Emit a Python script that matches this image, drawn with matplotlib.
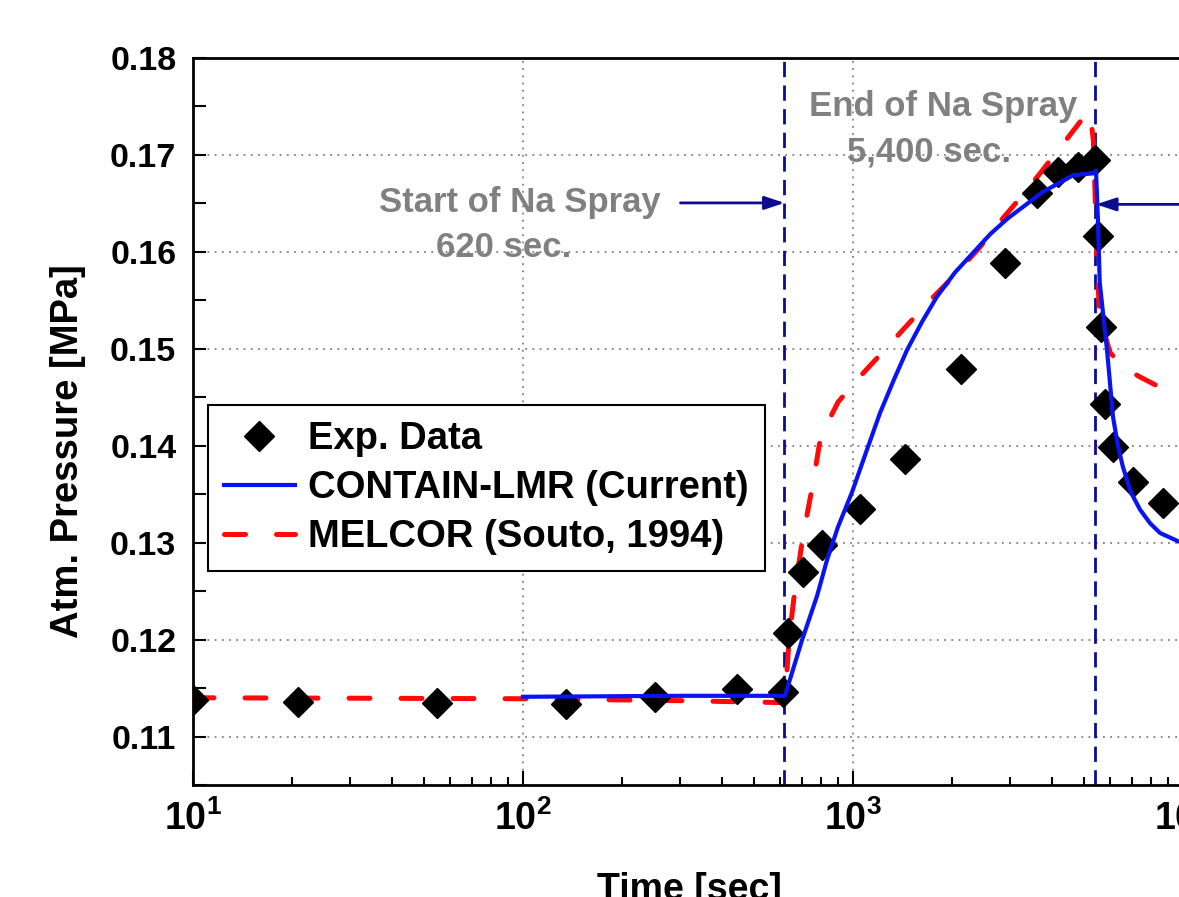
import math
import matplotlib
matplotlib.use("Agg")
import matplotlib.pyplot as plt
from matplotlib.ticker import FixedLocator, MultipleLocator, FuncFormatter, LogLocator

plt.rcParams['font.family'] = ['Liberation Sans', 'DejaVu Sans']
plt.rcParams['font.weight'] = 'bold'
plt.rcParams['mathtext.fontset'] = 'custom'
plt.rcParams['mathtext.rm'] = 'Liberation Sans:bold'
plt.rcParams['mathtext.bf'] = 'Liberation Sans:bold'
plt.rcParams['mathtext.it'] = 'Liberation Sans:bold'

# ---------------- data ----------------
exp_time = [10, 20.8, 54.8, 135, 251, 445, 615, 635, 705, 806, 1050, 1438, 2125,
            2891, 3615, 4178, 4806, 5400, 5520, 5650, 5810, 6135, 7047, 8690]
exp_pressure = [0.1138, 0.1136, 0.1135, 0.1134, 0.1141, 0.1149, 0.1146, 0.1207,
                0.1270, 0.1298, 0.1335, 0.1386, 0.1479, 0.1588, 0.1661, 0.1682,
                0.1688, 0.1695, 0.1616, 0.1523, 0.1443, 0.1399, 0.1363, 0.1341]

contain_time = [100, 300, 622, 700, 778, 834, 900, 993, 1100, 1208, 1330, 1459, 1620,
                1798, 2040, 2311, 2600, 2931, 3767, 4645, 5337, 5450, 5520, 5594,
                5884, 6135, 6350, 6577, 6950, 7413, 7950, 8518, 9728, 10000]
contain_pressure = [0.1141, 0.1142, 0.1142, 0.1199, 0.1245, 0.1282, 0.1316, 0.1352,
                    0.1395, 0.1434, 0.1468, 0.1499, 0.1528, 0.1554, 0.1579, 0.1599,
                    0.1618, 0.1634, 0.1662, 0.1679, 0.1681, 0.1684, 0.1636, 0.1568,
                    0.1499, 0.1430, 0.1400, 0.1378, 0.1352, 0.1334, 0.1320, 0.1310,
                    0.1301, 0.1300]

melcor_time = [10, 100, 300, 610, 622, 640, 667, 705, 757, 795, 850, 901, 1028, 1233,
               1438, 1746, 2010, 2426, 2786, 3274, 3689, 4300, 4977, 5225, 5350,
               5410, 5480, 5594, 6010, 6672, 7400, 8222, 9728, 10000]
melcor_pressure = [0.1140, 0.1139, 0.1137, 0.1135, 0.1136, 0.1200, 0.1252, 0.1306,
                   0.1362, 0.1406, 0.1428, 0.1445, 0.1468, 0.1497, 0.1522, 0.1553,
                   0.1574, 0.1605, 0.1631, 0.1659, 0.1681, 0.1710, 0.1738, 0.1744,
                   0.1715, 0.1664, 0.1592, 0.1533, 0.1496, 0.1480, 0.1471, 0.1463,
                   0.1447, 0.1445]

spray_start = 620
spray_end = 5400

x_ticks = [10, 100, 1000, 10000]
y_ticks = [0.11, 0.12, 0.13, 0.14, 0.15, 0.16, 0.17, 0.18]

labels = ['Exp. Data', 'CONTAIN-LMR (Current)', 'MELCOR (Souto, 1994)']

# ---------------- figure ----------------
fig = plt.figure(figsize=(11.79, 8.97), dpi=100)
ax = fig.add_axes([193 / 1179, 1 - 785 / 897, 990 / 1179, 727 / 897])

ax.set_xscale('log')
ax.set_xlim(10, 10000)
ax.set_ylim(0.105, 0.18)

navy = '#0c0c90'
grey = '#808080'

ax.grid(True, which='major', linestyle=(0, (1, 3)), color=grey, linewidth=1.3)
ax.set_axisbelow(True)

vline_kw = dict(color=navy, linewidth=2.0, linestyle=(0, (5.5, 3.0)), zorder=2)
ax.axvline(spray_start, **vline_kw)
ax.axvline(spray_end, **vline_kw)

ax.plot(exp_time, exp_pressure, linestyle='none', marker='D', markersize=15,
        color='black', label=labels[0], zorder=4)
ax.plot(contain_time, contain_pressure, color='#0a14f0', linewidth=3.0,
        label=labels[1], zorder=5)
ax.plot(melcor_time, melcor_pressure, color='#ff0a0a', linewidth=3.6,
        dashes=(4.2, 6.2), dash_capstyle='round', label=labels[2], zorder=3)

# annotations
txt_kw = dict(color=grey, fontsize=25, fontweight='bold', ha='center', va='center', zorder=6)
ax.text(97.6, 0.16505, 'Start of Na Spray', **txt_kw)
ax.text(87.5, 0.16041, '620 sec.', **txt_kw)
ax.text(1875, 0.17495, 'End of Na Spray', **txt_kw)
ax.text(1698, 0.17031, '5,400 sec.', **txt_kw)

arrow_kw = dict(arrowstyle='-|>,head_length=0.6,head_width=0.2', color=navy, lw=2.0,
                mutation_scale=20, shrinkA=0, shrinkB=0)
ax.annotate('', xy=(spray_start, 0.16505), xytext=(300, 0.16505), arrowprops=arrow_kw)
ax.annotate('', xy=(spray_end * 1.01, 0.16490), xytext=(12000, 0.16490),
            arrowprops=arrow_kw, annotation_clip=False)

# axes styling
for s in ax.spines.values():
    s.set_linewidth(2.0)

ax.xaxis.set_major_locator(FixedLocator(x_ticks))
ax.xaxis.set_minor_locator(LogLocator(base=10, subs=range(2, 10)))
ax.xaxis.set_major_formatter(FuncFormatter(lambda v, p: r'$\mathbf{10^{%d}}$' % round(math.log10(v))))
ax.yaxis.set_major_locator(FixedLocator(y_ticks))
ax.yaxis.set_minor_locator(MultipleLocator(0.005))
ax.yaxis.set_major_formatter(FuncFormatter(lambda v, p: '%.2f' % v))

ax.tick_params(axis='both', which='both', direction='in', top=False, right=False, width=1.5)
ax.tick_params(axis='x', which='major', length=10, labelsize=27, pad=11)
ax.tick_params(axis='x', which='minor', length=6)
ax.tick_params(axis='y', which='major', length=9, labelsize=24.5, pad=12)
ax.tick_params(axis='y', which='minor', length=9)

ax.set_xlabel('Time [sec]', fontsize=27, fontweight='bold')
ax.xaxis.set_label_coords(0.501, -0.120)
ax.xaxis.label.set_va('top')
ax.set_ylabel('Atm. Pressure [MPa]', fontsize=27.5, fontweight='bold')
ax.yaxis.set_label_coords(-0.108, 0.459)

leg = ax.legend(loc='upper left', bbox_to_anchor=(0.0152, 0.5227), borderaxespad=0,
                frameon=True, fancybox=False, edgecolor='black',
                framealpha=1, handlelength=1.85, handletextpad=0.35, labelspacing=0.34,
                borderpad=0.42, prop={'weight': 'bold', 'size': 27.5})
leg.get_frame().set_linewidth(1.5)
leg.set_zorder(10)

fig.savefig('out.png', dpi=100)
